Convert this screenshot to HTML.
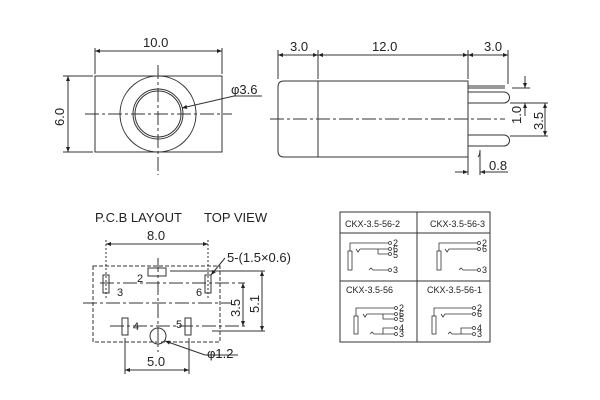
<!DOCTYPE html>
<html><head><style>
html,body{margin:0;padding:0;background:#fff;}
svg{display:block;}
text{font-family:"Liberation Sans",sans-serif;fill:#222;}
</style></head><body>
<svg width="600" height="400" viewBox="0 0 600 400" xmlns="http://www.w3.org/2000/svg">
<defs>
<marker id="a" viewBox="0 0 10 10" refX="10" refY="5" markerWidth="7" markerHeight="5" orient="auto-start-reverse"><path d="M0,1 L10,5 L0,9 z" fill="#222"/></marker>
</defs>
<g stroke="#333" stroke-width="1" fill="none">
<!-- Front view -->
<rect x="95" y="76" width="127" height="76"/>
<circle cx="158" cy="114" r="38"/>
<circle cx="158" cy="114" r="25"/>
<circle cx="158" cy="114" r="23"/>
<line x1="85" y1="114" x2="232" y2="114" stroke-dasharray="14,3,3,3"/>
<line x1="158" y1="65" x2="158" y2="175" stroke-dasharray="14,3,3,3"/>
<line x1="95" y1="48" x2="95" y2="74"/>
<line x1="222" y1="48" x2="222" y2="74"/>
<line x1="95" y1="51" x2="222" y2="51" marker-start="url(#a)" marker-end="url(#a)"/>
<line x1="63" y1="76" x2="93" y2="76"/>
<line x1="63" y1="152" x2="93" y2="152"/>
<line x1="68" y1="76" x2="68" y2="152" marker-start="url(#a)" marker-end="url(#a)"/>
<line x1="234" y1="96" x2="182" y2="108" marker-end="url(#a)"/>
<line x1="234" y1="96" x2="262" y2="96"/>
<!-- Side view -->
<path d="M284,81 H468 V157 H284 Q278,157 278,151 V87 Q278,81 284,81 Z"/>
<line x1="318" y1="81" x2="318" y2="157"/>
<line x1="270" y1="119" x2="505" y2="119" stroke-dasharray="14,3,3,3"/>
<line x1="278" y1="50" x2="278" y2="79"/>
<line x1="318" y1="50" x2="318" y2="79"/>
<line x1="468" y1="50" x2="468" y2="79"/>
<line x1="508" y1="50" x2="508" y2="84"/>
<line x1="278" y1="55" x2="318" y2="55" marker-start="url(#a)" marker-end="url(#a)"/>
<line x1="318" y1="55" x2="468" y2="55" marker-start="url(#a)" marker-end="url(#a)"/>
<line x1="468" y1="55" x2="508" y2="55" marker-start="url(#a)" marker-end="url(#a)"/>
<path d="M468,86 H505 M468,88 H505"/>
<path d="M468,92 H504 A5.5,5.5 0 0 1 504,103 H468"/>
<path d="M468,135 H504 A5.5,5.5 0 0 1 504,146 H468"/>
<path d="M468,157 L468,175 M480,150 Q480,150 480,175"/>
<path d="M478,157 Q480,155 480,150"/>
<line x1="455" y1="172" x2="468" y2="172" marker-end="url(#a)"/>
<line x1="493" y1="172" x2="480" y2="172" marker-end="url(#a)"/>
<line x1="480" y1="172" x2="508" y2="172"/>
<line x1="512" y1="88" x2="530" y2="88"/>
<line x1="510" y1="103" x2="548" y2="103"/>
<line x1="510" y1="136" x2="548" y2="136"/>
<line x1="525" y1="76" x2="525" y2="88" marker-end="url(#a)"/>
<line x1="525" y1="116" x2="525" y2="103" marker-end="url(#a)"/>
<line x1="545" y1="103" x2="545" y2="136" marker-start="url(#a)" marker-end="url(#a)"/>
<!-- PCB -->
<rect x="93" y="266" width="127" height="76" stroke-dasharray="4,2"/>
<rect x="148" y="268" width="18" height="8"/>
<rect x="103" y="275" width="6" height="18"/>
<rect x="205" y="275" width="6" height="18"/>
<rect x="122" y="318" width="6" height="17"/>
<rect x="185" y="318" width="6" height="17"/>
<circle cx="158" cy="336" r="8"/>
<line x1="100" y1="283" x2="245" y2="283" stroke-dasharray="14,3,3,3"/>
<line x1="83" y1="303" x2="232" y2="303" stroke-dasharray="14,3,3,3"/>
<line x1="110" y1="326" x2="245" y2="326" stroke-dasharray="14,3,3,3"/>
<line x1="170" y1="271" x2="265" y2="271"/>
<line x1="212" y1="331" x2="265" y2="331"/>
<line x1="158" y1="258" x2="158" y2="352" stroke-dasharray="14,3,3,3"/>
<line x1="106" y1="240" x2="106" y2="300" stroke-dasharray="2,2"/>
<line x1="208" y1="240" x2="208" y2="300" stroke-dasharray="2,2"/>
<line x1="106" y1="244" x2="208" y2="244" marker-start="url(#a)" marker-end="url(#a)"/>
<line x1="243" y1="283" x2="243" y2="326" marker-start="url(#a)" marker-end="url(#a)"/>
<line x1="262" y1="271" x2="262" y2="331" marker-start="url(#a)" marker-end="url(#a)"/>
<line x1="125" y1="338" x2="125" y2="374"/>
<line x1="189" y1="338" x2="189" y2="374"/>
<line x1="125" y1="370" x2="189" y2="370" marker-start="url(#a)" marker-end="url(#a)"/>
<line x1="205" y1="355" x2="165" y2="341" marker-end="url(#a)"/>
<line x1="205" y1="355" x2="238" y2="355"/>
<line x1="225" y1="258" x2="211" y2="275" marker-end="url(#a)"/>
<!-- Table -->
<rect x="340" y="212" width="150" height="130"/>
<line x1="417" y1="212" x2="417" y2="342"/>
<line x1="340" y1="233" x2="490" y2="233"/>
<line x1="340" y1="281" x2="490" y2="281"/>
</g>
<g stroke="#333" stroke-width="0.8" fill="none">
<!-- cell 1 -->
<rect x="348" y="251" width="4" height="19"/>
<path d="M350,251 V243 H388"/><circle cx="390" cy="243" r="1.5"/>
<path d="M356,249 L358,252 L360,249"/>
<path d="M360,249 H378 V254 M378,254 H388 M378,249 H388"/><circle cx="390" cy="249" r="1.5"/><circle cx="390" cy="254" r="1.5"/>
<path d="M369,270 L371,268 L373,270 H388"/><circle cx="390" cy="270" r="1.5"/>
<!-- cell 2 -->
<rect x="437" y="251" width="4" height="19"/>
<path d="M439,251 V243 H477"/><circle cx="479" cy="243" r="1.5"/>
<path d="M445,249 L447,252 L449,249 H477"/><circle cx="479" cy="249" r="1.5"/>
<path d="M459,270 L461,268 L463,270 H477"/><circle cx="479" cy="270" r="1.5"/>
<!-- cell 3 -->
<rect x="354" y="316" width="4" height="18"/>
<path d="M356,316 V308 H394"/><circle cx="396" cy="308" r="1.5"/>
<path d="M363,314 L365,317 L367,314 H394 M383,314 V319 H394"/><circle cx="396" cy="314" r="1.5"/><circle cx="396" cy="319" r="1.5"/>
<path d="M370,334 L372,332 L374,334 H394 M383,334 V328 H394"/><circle cx="396" cy="328" r="1.5"/><circle cx="396" cy="334" r="1.5"/>
<!-- cell 4 -->
<rect x="432" y="316" width="4" height="18"/>
<path d="M434,316 V308 H472"/><circle cx="474" cy="308" r="1.5"/>
<path d="M441,314 L443,317 L445,314 H472"/><circle cx="474" cy="314" r="1.5"/>
<path d="M448,334 L450,332 L452,334 H472 M461,334 V328 H472"/><circle cx="474" cy="328" r="1.5"/><circle cx="474" cy="334" r="1.5"/>
</g>
<g font-size="12">
<text x="143" y="47" font-size="13">10.0</text>
<text x="0" y="0" font-size="13" transform="translate(64,126) rotate(-90)">6.0</text>
<text x="231" y="94" font-size="13">φ3.6</text>
<text x="290" y="51" font-size="13">3.0</text>
<text x="372" y="51" font-size="13">12.0</text>
<text x="484" y="51" font-size="13">3.0</text>
<text x="489" y="170" font-size="13">0.8</text>
<text transform="translate(521,124) rotate(-90)" font-size="13">1.0</text>
<text transform="translate(543,130) rotate(-90)" font-size="13">3.5</text>
<text x="95" y="222" font-size="13">P.C.B LAYOUT</text>
<text x="204" y="222" font-size="13">TOP VIEW</text>
<text x="147" y="240" font-size="13">8.0</text>
<text x="227" y="262" font-size="13">5-(1.5×0.6)</text>
<text x="137" y="282" font-size="11">2</text>
<text x="117" y="296" font-size="11">3</text>
<text x="196" y="296" font-size="11">6</text>
<text x="133" y="330" font-size="11">4</text>
<text x="176" y="328" font-size="11">5</text>
<text transform="translate(240,317) rotate(-90)" font-size="13">3.5</text>
<text transform="translate(259,313) rotate(-90)" font-size="13">5.1</text>
<text x="147" y="366" font-size="13">5.0</text>
<text x="207" y="358" font-size="13">φ1.2</text>
<g font-size="9">
<text x="345" y="227">CKX-3.5-56-2</text>
<text x="430" y="227">CKX-3.5-56-3</text>
<text x="346" y="293">CKX-3.5-56</text>
<text x="427" y="293">CKX-3.5-56-1</text>
<text x="393" y="246">2</text><text x="393" y="252">6</text><text x="393" y="258">5</text><text x="393" y="273">3</text>
<text x="482" y="246">2</text><text x="482" y="252">6</text><text x="482" y="273">3</text>
<text x="399" y="311">2</text><text x="399" y="317">6</text><text x="399" y="322">5</text><text x="399" y="331">4</text><text x="399" y="337">3</text>
<text x="477" y="311">2</text><text x="477" y="317">6</text><text x="477" y="331">4</text><text x="477" y="337">3</text>
</g>
</g>
</svg>
</body></html>
